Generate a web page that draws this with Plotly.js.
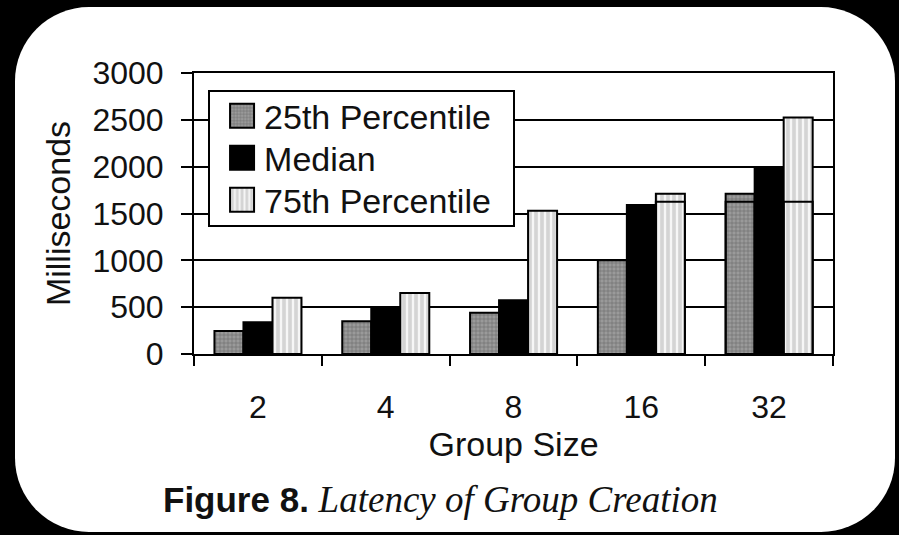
<!DOCTYPE html>
<html>
<head>
<meta charset="utf-8">
<script src="https://cdn.plot.ly/plotly-3.0.1.min.js"></script>
<style>
  html, body { margin: 0; padding: 0; background: #000; width: 899px; height: 535px; overflow: hidden; }
  #card { position: absolute; left: 15px; top: 7px; width: 880px; height: 525px; background: #fff; border-radius: 74px; }
  #chart { position: absolute; left: 0; top: 0; width: 899px; height: 535px; }
</style>
</head>
<body>
<div id="card"></div>
<div id="chart"></div>
<script>
// Group creation latency (ms) by group size
const groupSizes = ["2", "4", "8", "16", "32"];
const p25 = [245, 350, 440, 1000, 1710];
const median = [340, 500, 575, 1590, 1990];
const p75 = [600, 650, 1530, 1710, 2525];
// inner segment edges drawn inside some bars
const p25Segment = [null, null, null, null, 1625];
const p75Segment = [null, null, null, 1625, 1625];

const FONT = "Liberation Sans, Arial, sans-serif";
const INK = "#111";
const W = 0.227;

const outline = { color: "#000", width: 2 };
const p25Marker = {
  color: "#8e8e8e",
  line: outline,
  pattern: { shape: "+", bgcolor: "#9a9a9a", fgcolor: "#666", size: 4, solidity: 0.25 }
};
const p75Marker = {
  color: "#e2e2e2",
  line: outline,
  pattern: { shape: "|", bgcolor: "#d4d4d4", fgcolor: "#f6f6f6", size: 6, solidity: 0.4 }
};

const traces = [
  { type: "bar", name: "25th Percentile", x: groupSizes, y: p25, width: W, offset: -0.34, marker: p25Marker },
  { type: "bar", name: "Median", x: groupSizes, y: median, width: W, offset: -0.113, marker: { color: "#000", line: outline } },
  { type: "bar", name: "75th Percentile", x: groupSizes, y: p75, width: W, offset: 0.114, marker: p75Marker },
  { type: "bar", name: "p25 segment", x: groupSizes, y: p25Segment, width: W, offset: -0.34, showlegend: false,
    marker: { color: "rgba(0,0,0,0)", line: outline }, hoverinfo: "skip" },
  { type: "bar", name: "p75 segment", x: groupSizes, y: p75Segment, width: W, offset: 0.114, showlegend: false,
    marker: { color: "rgba(0,0,0,0)", line: outline }, hoverinfo: "skip" }
];

const layout = {
  width: 899, height: 535,
  margin: { l: 194, r: 66, t: 73, b: 181 },
  paper_bgcolor: "rgba(0,0,0,0)",
  plot_bgcolor: "#fff",
  barmode: "overlay",
  font: { family: FONT, size: 33, color: INK },
  showlegend: true,
  legend: {
    x: 0.022, y: 0.94, xanchor: "left", yanchor: "top",
    bgcolor: "#fff", bordercolor: "#000", borderwidth: 2,
    font: { family: FONT, size: 34, color: INK },
    tracegroupgap: 0, traceorder: "normal"
  },
  xaxis: {
    type: "category",
    tickson: "boundaries", ticks: "outside", ticklen: 10, tickwidth: 2, tickcolor: "#000",
    showline: true, linecolor: "#000", linewidth: 2, mirror: true,
    showgrid: false, zeroline: false, ticklabelstandoff: 24,
    tickfont: { family: FONT, size: 32, color: INK },
    title: { text: "Group Size", font: { family: FONT, size: 34, color: INK }, standoff: 1 }
  },
  yaxis: {
    range: [0, 3000], dtick: 500, tick0: 0,
    ticks: "outside", ticklen: 11, tickwidth: 2, tickcolor: "#000",
    showline: true, linecolor: "#000", linewidth: 2, mirror: true,
    showgrid: true, gridcolor: "#000", gridwidth: 2, zeroline: false, ticklabelstandoff: 11,
    tickfont: { family: FONT, size: 32, color: INK },
    title: { text: "Milliseconds", font: { family: FONT, size: 34, color: INK }, standoff: 12 }
  },
  annotations: [{
    xref: "paper", yref: "paper", x: 0.385, y: -0.518, xanchor: "center", yanchor: "middle",
    showarrow: false,
    text: "<b>Figure 8.</b> <span style=\"font-family:'Liberation Serif', 'Times New Roman', serif;font-style:italic;font-size:37px\">Latency of Group Creation</span>",
    font: { family: FONT, size: 35, color: INK }
  }]
};

const gd = document.getElementById("chart");
Plotly.newPlot(gd, traces, layout, { displayModeBar: false, staticPlot: true }).then(function () {
  // Larger legend swatches, tighter rows, wider box
  const legend = gd.querySelector(".legend");
  if (!legend) return;
  const scroll = legend.querySelector("g.scrollbox");
  if (scroll) scroll.removeAttribute("clip-path");
  const rows = legend.querySelectorAll("g.traces");
  const ROW = 42, TOP = 26;
  rows.forEach(function (row, i) {
    const m = /translate\(\s*([-\d.]+)[ ,]+([-\d.]+)/.exec(row.getAttribute("transform") || "");
    const tx = m ? parseFloat(m[1]) : 0;
    row.setAttribute("transform", "translate(" + tx + "," + (TOP + i * ROW) + ")");
    row.querySelectorAll("g.legendpoints path").forEach(function (p) {
      p.setAttribute("d", "M12,12H-12V-12H12Z");
      p.setAttribute("transform", "translate(32,0)");
    });
    const t = row.querySelector("text.legendtext");
    if (t) {
      t.setAttribute("x", 54);
      t.querySelectorAll("tspan").forEach(function (s) { if (s.hasAttribute("x")) s.setAttribute("x", 54); });
    }
  });
  const bg = legend.querySelector("rect.bg");
  if (bg) { bg.setAttribute("width", 305); bg.setAttribute("height", 135); }
});
</script>
</body>
</html>
